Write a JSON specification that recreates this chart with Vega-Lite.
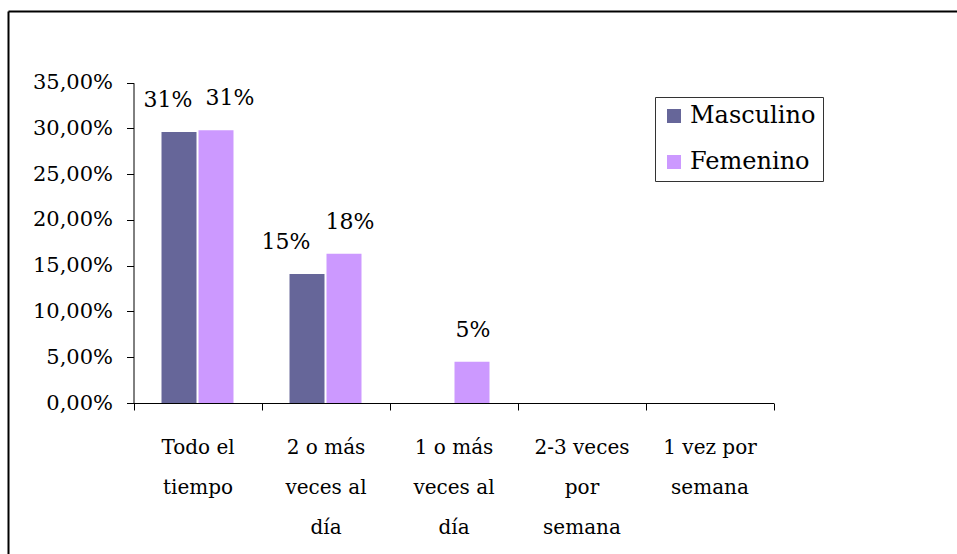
{
  "$schema": "https://vega.github.io/schema/vega-lite/v6.json",
  "width": 949,
  "height": 543,
  "autosize": {"type": "none"},
  "padding": {"left": 8, "top": 11, "right": 0, "bottom": 0},
  "background": "white",
  "config": {
    "view": {"stroke": null, "fill": null},
    "font": "DejaVu Serif",
    "text": {"font": "DejaVu Serif", "color": "black"}
  },
  "data": {
    "values": [
      {"categoria": "Todo el tiempo", "sexo": "Masculino", "valor": 0.296, "etiqueta": "31%"},
      {"categoria": "Todo el tiempo", "sexo": "Femenino", "valor": 0.298, "etiqueta": "31%"},
      {"categoria": "2 o más veces al día", "sexo": "Masculino", "valor": 0.141, "etiqueta": "15%"},
      {"categoria": "2 o más veces al día", "sexo": "Femenino", "valor": 0.163, "etiqueta": "18%"},
      {"categoria": "1 o más veces al día", "sexo": "Masculino", "valor": 0, "etiqueta": ""},
      {"categoria": "1 o más veces al día", "sexo": "Femenino", "valor": 0.045, "etiqueta": "5%"},
      {"categoria": "2-3 veces por semana", "sexo": "Masculino", "valor": 0, "etiqueta": ""},
      {"categoria": "2-3 veces por semana", "sexo": "Femenino", "valor": 0, "etiqueta": ""},
      {"categoria": "1 vez por semana", "sexo": "Masculino", "valor": 0, "etiqueta": ""},
      {"categoria": "1 vez por semana", "sexo": "Femenino", "valor": 0, "etiqueta": ""}
    ]
  },
  "resolve": {"scale": {"x": "independent", "y": "independent"}, "axis": {"x": "independent", "y": "independent"}},
  "layer": [
    {
      "encoding": {
        "x": {
          "field": "categoria",
          "type": "nominal",
          "sort": null,
          "scale": {"range": [125.5, 765.5], "paddingInner": 0, "paddingOuter": 0},
          "axis": {
            "orient": "bottom",
            "offset": -151,
            "title": null,
            "tickBand": "extent",
            "tickSize": 7,
            "tickColor": "black",
            "domainColor": "black",
            "labelAngle": 0,
            "labelFont": "DejaVu Serif",
            "labelFontSize": 20,
            "labelColor": "black",
            "labelLineHeight": 40,
            "labelPadding": 37,
            "labelBaseline": "middle",
            "labelExpr": "datum.label == 'Todo el tiempo' ? ['Todo el','tiempo'] : datum.label == '2 o más veces al día' ? ['2 o más','veces al','día'] : datum.label == '1 o más veces al día' ? ['1 o más','veces al','día'] : datum.label == '2-3 veces por semana' ? ['2-3 veces','por','semana'] : datum.label == '1 vez por semana' ? ['1 vez por','semana'] : ''"
          }
        },
        "xOffset": {
          "field": "sexo",
          "type": "nominal",
          "sort": ["Masculino", "Femenino"],
          "scale": {"paddingInner": 0.054, "paddingOuter": 0.757}
        },
        "y": {
          "field": "valor",
          "type": "quantitative",
          "scale": {"domain": [0, 0.35], "range": [392, 71.7], "nice": false, "zero": true},
          "axis": {
            "orient": "left",
            "offset": -125.5,
            "title": null,
            "grid": false,
            "values": [0, 0.05, 0.1, 0.15, 0.2, 0.25, 0.3, 0.35],
            "labelExpr": "replace(format(datum.value, '.2%'), '.', ',')",
            "tickSize": 7,
            "tickColor": "black",
            "domainColor": "black",
            "labelFont": "DejaVu Serif",
            "labelFontSize": 21,
            "labelColor": "black",
            "labelPadding": 14,
            "labelFlush": false,
            "labelOverlap": false
          }
        }
      },
      "layer": [
        {
          "mark": {"type": "bar"},
          "encoding": {
            "color": {
              "field": "sexo",
              "type": "nominal",
              "scale": {"domain": ["Masculino", "Femenino"], "range": ["#666699", "#CC99FF"]},
              "legend": {
                "title": null,
                "orient": "none",
                "legendX": 647,
                "legendY": 86,
                "strokeColor": "#333333",
                "fillColor": "white",
                "padding": 7,
                "symbolType": "square",
                "symbolSize": 196,
                "symbolStrokeWidth": 0,
                "symbolOffset": 0,
                "labelFont": "DejaVu Serif",
                "labelFontSize": 24,
                "labelColor": "black",
                "labelOffset": 4,
                "rowPadding": 22
              }
            }
          }
        },
        {
          "transform": [{"filter": "datum.sexo == 'Masculino' && datum.categoria == 'Todo el tiempo'"}],
          "mark": {"type": "text", "dy": -25, "dx": -11, "baseline": "alphabetic", "fontSize": 22},
          "encoding": {"text": {"field": "etiqueta"}}
        },
        {
          "transform": [{"filter": "datum.sexo == 'Masculino' && datum.categoria == '2 o más veces al día'"}],
          "mark": {"type": "text", "dy": -25, "dx": -21, "baseline": "alphabetic", "fontSize": 22},
          "encoding": {"text": {"field": "etiqueta"}}
        },
        {
          "transform": [{"filter": "datum.sexo == 'Femenino' && datum.categoria == 'Todo el tiempo'"}],
          "mark": {"type": "text", "dy": -25, "dx": 14, "baseline": "alphabetic", "fontSize": 22},
          "encoding": {"text": {"field": "etiqueta"}}
        },
        {
          "transform": [{"filter": "datum.sexo == 'Femenino' && datum.categoria == '2 o más veces al día'"}],
          "mark": {"type": "text", "dy": -25, "dx": 6, "baseline": "alphabetic", "fontSize": 22},
          "encoding": {"text": {"field": "etiqueta"}}
        },
        {
          "transform": [{"filter": "datum.sexo == 'Femenino' && datum.categoria == '1 o más veces al día'"}],
          "mark": {"type": "text", "dy": -25, "dx": 1, "baseline": "alphabetic", "fontSize": 22},
          "encoding": {"text": {"field": "etiqueta"}}
        }
      ]
    },
    {
      "mark": {"type": "text"},
      "encoding": {
        "x": {
          "field": "valor",
          "type": "quantitative",
          "scale": {"domain": [0, 1], "range": [0, 949], "nice": false},
          "axis": {"orient": "top", "offset": 0, "title": null, "grid": false, "ticks": false, "labels": false, "domain": true, "domainColor": "black", "domainWidth": 2}
        },
        "y": {
          "field": "valor",
          "type": "quantitative",
          "scale": {"domain": [0, 1], "range": [543, 0], "nice": false},
          "axis": {"orient": "left", "offset": 0, "title": null, "grid": false, "ticks": false, "labels": false, "domain": true, "domainColor": "black", "domainWidth": 2}
        },
        "text": {"value": ""}
      }
    }
  ]
}
